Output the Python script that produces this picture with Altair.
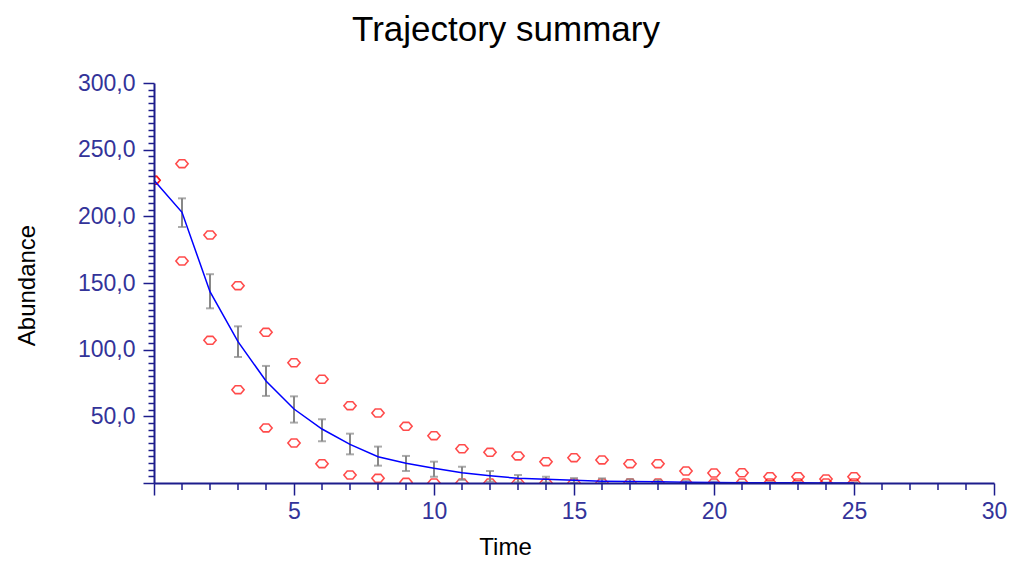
import altair as alt
import pandas as pd

times = list(range(26))
upper = [227, 239.5, 186, 148, 113, 90.2, 77.8, 58, 52.5, 42.5, 35.5, 25.7, 23, 20.3,
         16, 19, 17.3, 14.5, 14.5, 9, 7.5, 7.7, 4.7, 4.7, 3, 4.7]
lower = [227, 166.5, 107, 70, 41.3, 30, 14.5, 6, 3.5, 0.5, 0, 0, 0, 0,
         0, 0, 0, 0, 0, 0, 0, 0, 0, 0, 0, 0]
mean = [227, 203, 143.5, 106, 76.5, 55.5, 40.5, 29, 19.7, 14.8, 11, 7.7, 5.5, 3.5,
        2.8, 2.0, 1.4, 1.2, 1.0, 0.5, 0.3, 0.2, 0.1, 0.1, 0.05, 0.05]
err_times = list(range(1, 26))
err_hi = [213.5, 156.6, 117.5, 87.8, 65, 47.8, 37, 27.3, 20.3, 16, 12.2, 9, 6, 4.7,
          3.7, 3.5, 2.8, 2.2, 1.5, 1.0, 0.6, 0.5, 0.4, 0.3, 0.3]
err_lo = [192, 131, 94.5, 65.3, 45.3, 31.3, 21.5, 13, 9, 4.7, 2.3, 1, 0.5, 0.3,
          0.2, 0, 0, 0, 0, 0, 0, 0, 0, 0, 0]
x_minor_ticks = [v for v in range(1, 31) if v % 5 != 0]

pts = pd.DataFrame({"t": times * 2, "v": upper + lower})
line_df = pd.DataFrame({"t": times, "m": mean})
err_df = pd.DataFrame({"t": err_times, "hi": err_hi, "lo": err_lo})
minor_df = pd.DataFrame({"t": x_minor_ticks})

FONT = "Liberation Sans"
LABEL_C = "#333399"
AXIS_C = "#1c1c8c"
H = 400

x_axis = alt.Axis(
    values=list(range(0, 31, 5)),
    labelExpr="datum.value > 0 ? format(datum.value, 'd') : ''",
    tickSize=12, tickColor=AXIS_C, tickWidth=1.5, domainColor=AXIS_C, domainWidth=2,
    labelColor=LABEL_C, labelFont=FONT, labelFontSize=23, labelPadding=5,
    labelOverlap=False, labelFlush=False, grid=False, zindex=1,
    title="Time", titleFont=FONT, titleFontSize=24, titleFontWeight="normal",
    titleColor="#000000", titleX=351, titleY=71, titleAlign="center",
    titleBaseline="alphabetic",
)
y_axis = alt.Axis(
    values=list(range(0, 301, 5)),
    labelExpr="(datum.value % 50 === 0 && datum.value > 0) ? replace(format(datum.value, '.1f'), '.', ',') : ''",
    tickSize={"condition": {"test": "datum.value % 50 === 0", "value": 11}, "value": 6},
    tickColor=AXIS_C, tickWidth=1.5, domainColor=AXIS_C, domainWidth=2,
    labelColor=LABEL_C, labelFont=FONT, labelFontSize=23, labelPadding=8,
    labelOverlap=False, labelFlush=False, grid=False, zindex=1,
    title="Abundance", titleFont=FONT, titleFontSize=24, titleFontWeight="normal",
    titleColor="#000000", titleX=-120, titleY=202, titleAngle=270,
    titleAlign="center", titleBaseline="alphabetic",
)

xs = alt.Scale(domain=[0, 30], nice=False, zero=False)
ys = alt.Scale(domain=[0, 300], nice=False)

marker = "M-1,0L-0.45,-0.65L0.45,-0.65L1,0L0.45,0.65L-0.45,0.65Z"

points = alt.Chart(pts).mark_point(
    shape=marker, filled=False, color="#ff0000", size=150, strokeWidth=1.6, clip=True
).encode(
    x=alt.X("t:Q", scale=xs, axis=x_axis),
    y=alt.Y("v:Q", scale=ys, axis=y_axis),
)

rules = alt.Chart(err_df).mark_rule(color="#888888", strokeWidth=2).encode(
    x=alt.X("t:Q", scale=xs, axis=x_axis),
    y=alt.Y("hi:Q", scale=ys, axis=y_axis),
    y2="lo:Q",
)
caps_hi = alt.Chart(err_df).mark_tick(
    color="#888888", size=8, thickness=2, orient="horizontal"
).encode(
    x=alt.X("t:Q", scale=xs, axis=x_axis),
    y=alt.Y("hi:Q", scale=ys, axis=y_axis),
)
caps_lo = alt.Chart(err_df).mark_tick(
    color="#888888", size=8, thickness=2, orient="horizontal"
).encode(
    x=alt.X("t:Q", scale=xs, axis=x_axis),
    y=alt.Y("lo:Q", scale=ys, axis=y_axis),
)

line = alt.Chart(line_df).mark_line(color="#0000ff", strokeWidth=1.5).encode(
    x=alt.X("t:Q", scale=xs, axis=x_axis),
    y=alt.Y("m:Q", scale=ys, axis=y_axis),
)

minor = alt.Chart(minor_df).mark_rule(color=AXIS_C, strokeWidth=1.5).encode(
    x=alt.X("t:Q", scale=xs, axis=x_axis),
    y=alt.value(H),
    y2=alt.value(H + 7),
)

chart = alt.layer(points, rules, caps_hi, caps_lo, line, minor).properties(
    width=840,
    height=H,
    background="#ffffff",
    title=alt.TitleParams(
        "Trajectory summary", font=FONT, fontSize=35, fontWeight="normal",
        color="#000000", anchor="middle", frame="group", dx=-68, offset=24,
    ),
    autosize=alt.AutoSizeParams(type="none"),
    padding={"left": 154, "top": 83, "right": 18, "bottom": 78},
).configure_view(stroke="transparent", strokeWidth=0)

chart.save("out.html", embed_options={"renderer": "svg", "actions": False})
